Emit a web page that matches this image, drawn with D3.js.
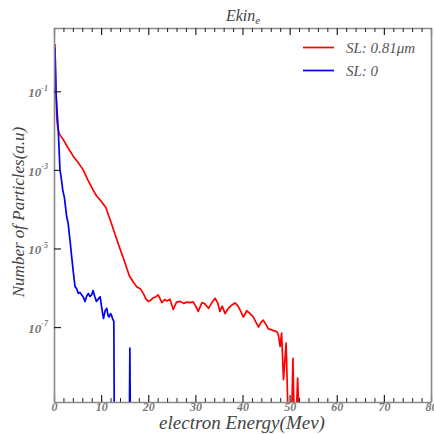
<!DOCTYPE html>
<html>
<head>
<meta charset="utf-8">
<script src="https://cdn.jsdelivr.net/npm/d3@7/dist/d3.min.js"></script>
<style>
  html, body { margin: 0; padding: 0; background: #fff; }
  svg { display: block; }
  svg text { font-family: "Liberation Serif", "Times New Roman", "DejaVu Serif", serif !important; font-style: italic; }
</style>
</head>
<body>
<svg id="chart" width="434" height="434"></svg>
<script>
// Electron kinetic energy spectra (MeV vs. particle count, arbitrary units)
const energySL081 = [0.2, 0.4, 0.6, 0.85, 1.2, 2.0, 3.0, 4.1, 5.0, 6.2, 7.2, 8.3, 9.0, 10.0, 11.0, 12.0, 13.0, 14.0, 15.0, 16.0, 17.0, 17.6, 18.3, 19.0, 19.5, 20.0, 20.5, 21.0, 21.5, 22.1, 22.9, 23.5, 24.0, 24.6, 25.3, 26.0, 26.8, 27.5, 28.2, 28.9, 29.5, 30.0, 30.6, 31.4, 32.0, 32.8, 33.5, 34.2, 34.7, 35.2, 35.7, 36.3, 37.0, 37.7, 38.4, 39.0, 39.5, 40.2, 40.9, 41.6, 42.3, 42.9, 43.4, 43.9, 44.4, 44.8, 45.5, 46.2, 46.6, 47.3, 47.6, 48.0, 48.3, 48.7, 49.26, 49.6, 50.5, 50.7, 50.9, 51.5, 51.7, 51.9, 80];
const countSL081  = [1.6, 0.12, 0.02, 1.05e-2, 8e-3, 5.8e-3, 3.6e-3, 2.2e-3, 1.6e-3, 1.0e-3, 5.5e-4, 3.1e-4, 2.2e-4, 1.6e-4, 1.1e-4, 5e-5, 2.2e-5, 9.8e-6, 4.5e-6, 2.0e-6, 1.3e-6, 1.05e-6, 9.5e-7, 7e-7, 5.2e-7, 4.5e-7, 4.8e-7, 5.5e-7, 5.8e-7, 6.6e-7, 4.2e-7, 5e-7, 4.6e-7, 5.1e-7, 2.8e-7, 4.3e-7, 4.5e-7, 4.0e-7, 4.3e-7, 4.2e-7, 4.4e-7, 3.5e-7, 2.5e-7, 4.2e-7, 3.9e-7, 3.0e-7, 4.2e-7, 5.4e-7, 4.2e-7, 2.5e-7, 3.4e-7, 2.2e-7, 3.0e-7, 3.6e-7, 4.1e-7, 3.5e-7, 2.7e-7, 1.8e-7, 2.6e-7, 2.2e-7, 1.8e-7, 1.3e-7, 1.0e-7, 1.3e-7, 1.5e-7, 1.26e-7, 9e-8, 8.5e-8, 8.1e-8, 7.6e-8, 6.3e-8, 3.2e-8, 7e-8, 4.6e-9, 3.9e-8, 0, 0, 1.6e-8, 0, 0, 5e-9, 0, 0];

const energySL0 = [0.2, 0.4, 0.9, 1.27, 1.6, 1.85, 2.2, 2.7, 3.0, 3.4, 3.75, 4.1, 4.46, 4.8, 5.16, 5.5, 5.87, 6.2, 6.58, 6.95, 7.29, 7.65, 8.0, 8.3, 8.65, 9.0, 9.4, 9.8, 10.15, 10.5, 10.85, 11.2, 11.45, 11.7, 12.0, 12.2, 12.45, 12.7, 12.78, 16.02, 16.1, 16.18, 80];
const countSL0  = [1.3, 0.1, 1.05e-2, 1.0e-3, 5.5e-4, 3.1e-4, 2.0e-4, 6.3e-5, 4.4e-5, 1.6e-5, 6.2e-6, 2.5e-6, 1.07e-6, 9.5e-7, 7.2e-7, 7.6e-7, 6.6e-7, 5.8e-7, 4.5e-7, 6.2e-7, 7.2e-7, 6.0e-7, 6.6e-7, 8.5e-7, 6.0e-7, 4.5e-7, 5.2e-7, 5.9e-7, 3.0e-7, 1.65e-7, 2.6e-7, 3.0e-7, 2.0e-7, 1.8e-7, 2.2e-7, 2.0e-7, 1.6e-7, 1.4e-7, 0, 0, 2.9e-8, 0, 0];

const seriesNames  = ["SL: 0.81\u03bcm", "SL: 0"];
const seriesColors = ["#ff0000", "#0000ff"];

const xMajorTicks = [0, 10, 20, 30, 40, 50, 60, 70, 80];
const yTickExps   = [-1, -3, -5, -7];

const xDomain = [0, 80];
const yDomain = [Math.pow(10, -8.907), Math.pow(10, 0.61)];

// layout
const margin = { left: 54, top: 28, right: 3, bottom: 32 };
const W = 434, H = 434;
const x0 = margin.left, x1 = W - margin.right;
const y0 = margin.top,  y1 = H - margin.bottom;

const svg = d3.select("#chart");

const x = d3.scaleLinear().domain(xDomain).range([x0, x1]);
const y = d3.scaleLog().domain(yDomain).range([y1, y0]);

svg.append("defs").append("clipPath").attr("id", "plotClip")
  .append("rect").attr("x", x0).attr("y", y0).attr("width", x1 - x0).attr("height", y1 - y0);

// curves: empty bins fall to the bottom of the frame
const yOf = v => v > 0 ? y(v) : y1 + 2;
const line = d3.line().x(d => x(d[0])).y(d => yOf(d[1]));

const series = [
  d3.zip(energySL081, countSL081),
  d3.zip(energySL0, countSL0)
];

const plot = svg.append("g").attr("clip-path", "url(#plotClip)");
series.forEach((pts, i) => {
  plot.append("path")
    .datum(pts)
    .attr("fill", "none")
    .attr("stroke", seriesColors[i])
    .attr("stroke-width", 1.7)
    .attr("stroke-linejoin", "round")
    .attr("d", line);
});

// axes
const frameColor = "#8a8a8a";
const tickColor = "#222";
const xMinorTicks = d3.range(0, 81, 2).filter(v => v % 10 !== 0);

function styleAxis(g) {
  g.select(".domain").attr("stroke", frameColor).attr("stroke-width", 1.6);
  g.selectAll(".tick line").attr("stroke", tickColor).attr("stroke-width", 1.2);
}

// bottom major
const gxb = svg.append("g").attr("transform", `translate(0,${y1})`)
  .call(d3.axisBottom(x).tickValues(xMajorTicks).tickSizeInner(-7).tickSizeOuter(0).tickFormat(d3.format("d")).tickPadding(0));
styleAxis(gxb);
gxb.selectAll(".tick text")
  .attr("fill", "#777").attr("font-size", 12).attr("font-weight", "bold");

// bottom minor
const gxbm = svg.append("g").attr("transform", `translate(0,${y1})`)
  .call(d3.axisBottom(x).tickValues(xMinorTicks).tickSizeInner(-4).tickSizeOuter(0).tickFormat(""));
gxbm.select(".domain").remove();
gxbm.selectAll(".tick line").attr("stroke", tickColor).attr("stroke-width", 1);

// top mirror
const gxt = svg.append("g").attr("transform", `translate(0,${y0})`)
  .call(d3.axisTop(x).tickValues(xMajorTicks).tickSizeInner(-7).tickSizeOuter(0).tickFormat(""));
styleAxis(gxt);
const gxtm = svg.append("g").attr("transform", `translate(0,${y0})`)
  .call(d3.axisTop(x).tickValues(xMinorTicks).tickSizeInner(-4).tickSizeOuter(0).tickFormat(""));
gxtm.select(".domain").remove();
gxtm.selectAll(".tick line").attr("stroke", tickColor).attr("stroke-width", 1);

// left
const gyl = svg.append("g").attr("transform", `translate(${x0},0)`)
  .call(d3.axisLeft(y).tickValues(yTickExps.map(e => Math.pow(10, e))).tickSizeInner(-7).tickSizeOuter(0).tickFormat(""));
styleAxis(gyl);
gyl.selectAll(".tick").each(function (d) {
  const e = Math.round(Math.log10(d));
  const t = d3.select(this).append("text")
    .attr("x", -6).attr("y", 0).attr("dy", "0.4em")
    .attr("text-anchor", "end")
    .attr("fill", "#777").attr("font-size", 13).attr("font-weight", "bold");
  t.append("tspan").text("10");
  t.append("tspan").attr("font-size", 8).attr("dy", "-0.8em").text(String(e));
});

// right
const gyr = svg.append("g").attr("transform", `translate(${x1},0)`)
  .call(d3.axisRight(y).tickValues([]).tickSizeOuter(0));
styleAxis(gyr);

// title
const title = svg.append("text")
  .attr("x", 243).attr("y", 21).attr("text-anchor", "middle")
  .attr("fill", "#444").attr("font-size", 16);
title.append("tspan").text("Ekin");
title.append("tspan").attr("font-size", 11).attr("dy", "0.3em").text("e");

// axis titles
svg.append("text")
  .attr("x", 242).attr("y", 429).attr("text-anchor", "middle")
  .attr("fill", "#444").attr("font-size", 19)
  .text("electron Energy(Mev)");

svg.append("text")
  .attr("transform", `translate(24,212) rotate(-90)`)
  .attr("text-anchor", "middle")
  .attr("fill", "#444").attr("font-size", 17)
  .text("Number of Particles(a.u)");

// legend
const legend = svg.append("g");
seriesNames.forEach((name, i) => {
  const ly = 47.5 + i * 23;
  legend.append("line")
    .attr("x1", 303).attr("x2", 334).attr("y1", ly).attr("y2", ly)
    .attr("stroke", seriesColors[i]).attr("stroke-width", 1.7);
  legend.append("text")
    .attr("x", 346).attr("y", ly).attr("dy", "0.35em")
    .attr("fill", "#555").attr("font-size", 15)
    .text(name);
});
</script>
</body>
</html>
